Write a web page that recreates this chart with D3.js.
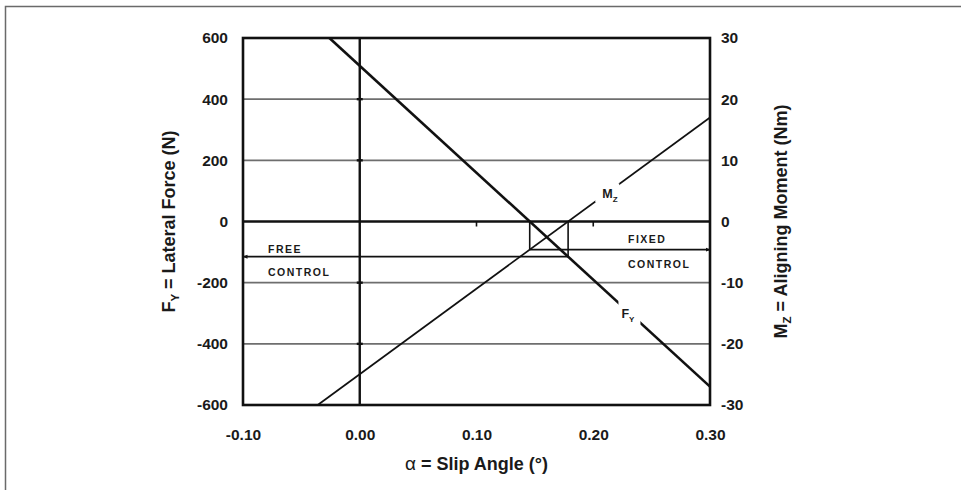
<!DOCTYPE html>
<html>
<head>
<meta charset="utf-8">
<script src="https://cdn.jsdelivr.net/npm/d3@7"></script>
<style>
  html, body { margin: 0; padding: 0; background: #fff; }
  svg { display: block; }
  text { font-family: "Liberation Sans", Arial, sans-serif; fill: #1a1a1a; }
</style>
</head>
<body>
<svg id="chart" width="961" height="490"></svg>
<script>
// ---- data ----
const alphaTicks = [-0.10, 0.00, 0.10, 0.20, 0.30];
const fyTicks = [600, 400, 200, 0, -200, -400, -600];
const mzTicks = [30, 20, 10, 0, -10, -20, -30];
const fyGrid = [400, 200, -200, -400];
const zeroTickAlphas = [0.10, 0.20];
// lateral force line (alpha, Fy)
const fyAlpha = [-0.026, 0.30];
const fyValues = [600, -540];
// aligning moment line (alpha, Mz)
const mzAlpha = [-0.036, 0.30];
const mzValues = [-30, 17];
const freeLabel = ["FREE", "CONTROL"];
const fixedLabel = ["FIXED", "CONTROL"];
// label anchor positions along the lines (alpha)
const fyLabelAlpha = 0.231;
const mzLabelAlpha = 0.212;

// ---- layout ----
const svg = d3.select("#chart");
const L = 243, R = 710, T = 38, B = 405;
const x = d3.scaleLinear().domain([-0.10, 0.30]).range([L, R]);
const yF = d3.scaleLinear().domain([-600, 600]).range([B, T]);
const yM = d3.scaleLinear().domain([-30, 30]).range([B, T]);

// outer frame
svg.append("rect").attr("x", 5.5).attr("y", 6.5).attr("width", 1200).attr("height", 1200)
  .attr("fill", "none").attr("stroke", "#6a6a6a").attr("stroke-width", 1.5);

// arrow markers
const defs = svg.append("defs");
defs.append("marker").attr("id", "arr").attr("viewBox", "0 0 10 10")
  .attr("refX", 9).attr("refY", 5).attr("markerWidth", 5).attr("markerHeight", 5)
  .attr("orient", "auto-start-reverse").attr("markerUnits", "userSpaceOnUse")
  .append("path").attr("d", "M0,1 L10,5 L0,9 Z").attr("fill", "#111");

// gridlines
svg.append("g").selectAll("line").data(fyGrid).join("line")
  .attr("x1", L).attr("x2", R).attr("y1", d => yF(d)).attr("y2", d => yF(d))
  .attr("stroke", "#6e6e6e").attr("stroke-width", 1.6);

// zero line and alpha = 0 line
svg.append("line").attr("x1", L).attr("x2", R).attr("y1", yF(0)).attr("y2", yF(0))
  .attr("stroke", "#111").attr("stroke-width", 2.4);
svg.append("line").attr("x1", x(0)).attr("x2", x(0)).attr("y1", T).attr("y2", B)
  .attr("stroke", "#111").attr("stroke-width", 2.4);
// small ticks on zero line
svg.append("g").selectAll("line").data(zeroTickAlphas).join("line")
  .attr("x1", d => x(d)).attr("x2", d => x(d)).attr("y1", yF(0)).attr("y2", yF(0) + 5)
  .attr("stroke", "#111").attr("stroke-width", 1.6);
// small ticks on alpha=0 line at gridlines
svg.append("g").selectAll("line").data(fyGrid).join("line")
  .attr("x1", x(0) - 3).attr("x2", x(0) + 3).attr("y1", d => yF(d)).attr("y2", d => yF(d))
  .attr("stroke", "#111").attr("stroke-width", 2.4);

// intersections derived from the two lines
const fyAt = a => fyValues[0] + (fyValues[1] - fyValues[0]) * (a - fyAlpha[0]) / (fyAlpha[1] - fyAlpha[0]);
const mzAt = a => mzValues[0] + (mzValues[1] - mzValues[0]) * (a - mzAlpha[0]) / (mzAlpha[1] - mzAlpha[0]);
const aFy0 = fyAlpha[0] + (0 - fyValues[0]) * (fyAlpha[1] - fyAlpha[0]) / (fyValues[1] - fyValues[0]);
const aMz0 = mzAlpha[0] + (0 - mzValues[0]) * (mzAlpha[1] - mzAlpha[0]) / (mzValues[1] - mzValues[0]);
const fixedMz = mzAt(aFy0);
const freeFy = fyAt(aMz0);

const g = svg.append("g").attr("stroke", "#111").attr("stroke-width", 1.6).attr("fill", "none");
// box verticals
g.append("line").attr("x1", x(aFy0)).attr("x2", x(aFy0)).attr("y1", yF(0)).attr("y2", yM(fixedMz));
g.append("line").attr("x1", x(aMz0)).attr("x2", x(aMz0)).attr("y1", yF(0)).attr("y2", yF(freeFy));
// fixed control arrow (to the right)
g.append("line").attr("x1", x(aFy0)).attr("x2", R).attr("y1", yM(fixedMz)).attr("y2", yM(fixedMz))
  .attr("marker-end", "url(#arr)");
// free control arrow (to the left)
g.append("line").attr("x1", x(aMz0)).attr("x2", L).attr("y1", yF(freeFy)).attr("y2", yF(freeFy))
  .attr("marker-end", "url(#arr)");

// Mz line (thin)
const mzPts = mzAlpha.map((a, i) => [x(a), yM(mzValues[i])]);
svg.append("path").attr("d", d3.line()(mzPts)).attr("stroke", "#111").attr("stroke-width", 1.7).attr("fill", "none");
// Fy line (thick)
const fyPts = fyAlpha.map((a, i) => [x(a), yF(fyValues[i])]);
svg.append("path").attr("d", d3.line()(fyPts)).attr("stroke", "#111").attr("stroke-width", 2.6).attr("fill", "none");

// line labels with white background gaps
function lineLabel(cx, cy, main, sub, w, h, dx) {
  svg.append("rect").attr("x", cx - w / 2).attr("y", cy - h / 2).attr("width", w).attr("height", h)
    .attr("fill", "#fff");
  const t = svg.append("text").attr("x", cx + dx).attr("y", cy + 5)
    .attr("font-size", 12.5).attr("font-weight", "bold");
  t.append("tspan").text(main);
  t.append("tspan").attr("dy", 4).attr("font-size", 8).text(sub);
}
lineLabel(x(mzLabelAlpha), yM(mzAt(mzLabelAlpha)), "M", "Z", 24, 19, -5);
lineLabel(x(fyLabelAlpha), yF(fyAt(fyLabelAlpha)), "F", "Y", 22, 24, -8);

// plot border
svg.append("rect").attr("x", L).attr("y", T).attr("width", R - L).attr("height", B - T)
  .attr("fill", "none").attr("stroke", "#111").attr("stroke-width", 2.6);

// control labels
function ctrlText(xp, yp, s) {
  svg.append("text").attr("x", xp).attr("y", yp).attr("font-size", 10.5).attr("font-weight", "bold")
    .attr("letter-spacing", 1.5).attr("fill", "#222").text(s);
}
ctrlText(268, yF(0) + 31, freeLabel[0]);
ctrlText(268, yF(freeFy) + 19, freeLabel[1]);
ctrlText(628, yM(fixedMz) - 7, fixedLabel[0]);
ctrlText(628, yM(fixedMz) + 18, fixedLabel[1]);

// axes
function styleAxis(sel) {
  sel.select(".domain").remove();
  sel.selectAll("text").attr("font-family", "'Liberation Sans', Arial, sans-serif")
    .attr("font-weight", "bold").attr("font-size", 15.5).attr("fill", "#1a1a1a");
}
svg.append("g").attr("transform", `translate(${L},0)`)
  .call(d3.axisLeft(yF).tickValues(fyTicks).tickSize(0).tickPadding(15).tickFormat(d => String(d)))
  .call(styleAxis);
svg.append("g").attr("transform", `translate(${R},0)`)
  .call(d3.axisRight(yM).tickValues(mzTicks).tickSize(0).tickPadding(11).tickFormat(d => String(d)))
  .call(styleAxis);
svg.append("g").attr("transform", `translate(0,${B})`)
  .call(d3.axisBottom(x).tickValues(alphaTicks).tickSize(0).tickPadding(24).tickFormat(d => d.toFixed(2)))
  .call(styleAxis);

// axis titles
const xt = svg.append("text").attr("x", (L + R) / 2).attr("y", 470).attr("text-anchor", "middle")
  .attr("font-size", 18).attr("font-weight", "bold");
xt.append("tspan").attr("font-weight", "normal").attr("font-size", 19).text("α");
xt.append("tspan").text(" = Slip Angle (°)");

const yl = svg.append("text").attr("transform", `translate(175,${yF(0)}) rotate(-90)`)
  .attr("text-anchor", "middle").attr("font-size", 18).attr("font-weight", "bold");
yl.append("tspan").text("F");
yl.append("tspan").attr("dy", 4).attr("font-size", 11.5).text("Y");
yl.append("tspan").attr("dy", -4).text(" = Lateral Force (N)");

const yr = svg.append("text").attr("transform", `translate(787,${yF(0)}) rotate(-90)`)
  .attr("text-anchor", "middle").attr("font-size", 18).attr("font-weight", "bold");
yr.append("tspan").text("M");
yr.append("tspan").attr("dy", 4).attr("font-size", 11.5).text("Z");
yr.append("tspan").attr("dy", -4).text(" = Aligning Moment (Nm)");
</script>
</body>
</html>
